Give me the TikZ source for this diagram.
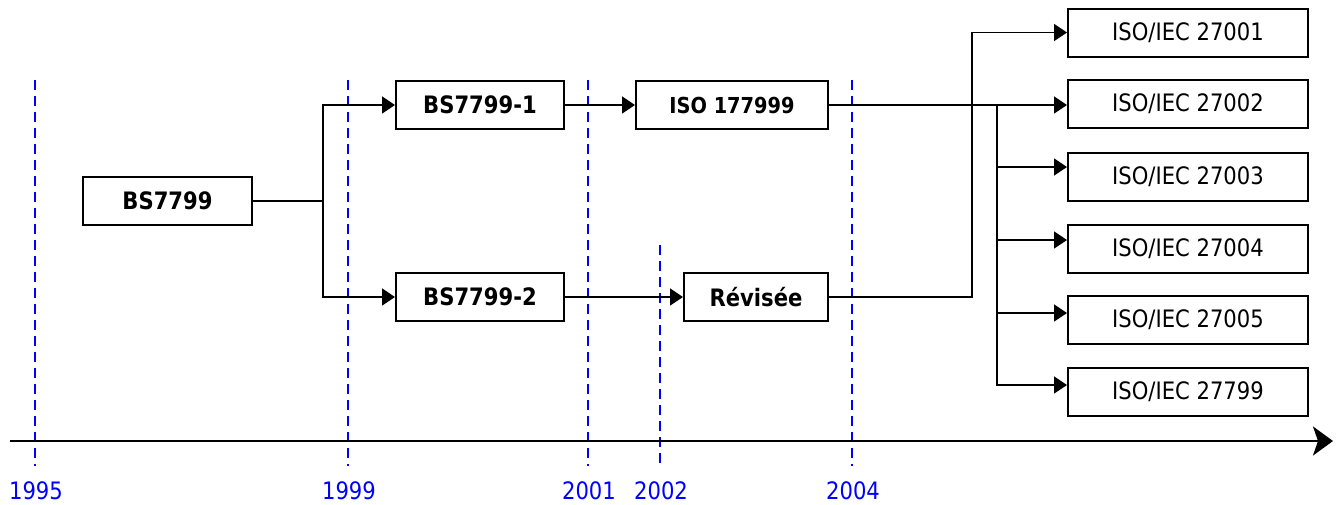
\documentclass[tikz,border=0pt]{standalone}
\usepackage{fontspec}
\setmainfont[FakeStretch=0.88]{DejaVu Sans}
\usetikzlibrary{arrows.meta,positioning,calc}

\tikzset{
  box/.style={draw, line width=2pt, minimum height=48pt, inner sep=0pt,
    font=\fontsize{24}{28}\selectfont},
  boldbox/.style={box, font=\fontsize{24}{28}\selectfont\bfseries},
  link/.style={line width=1.8pt, -{Triangle[length=13pt,width=17pt]}},
  yearline/.style={blue, line width=1.8pt, dash pattern=on 10pt off 6pt},
  yearlabel/.style={blue, font=\fontsize{24}{28}\selectfont, inner sep=0pt},
  timeaxis/.style={line width=2.4pt, -{Stealth[length=20pt,width=29pt,inset=5pt]}}
}

\begin{document}
\begin{tikzpicture}[x=1pt,y=-1pt]
  \useasboundingbox (0,0) rectangle (1337,504);

  % Draw year markers
  \foreach \x/\yr/\top in {35/1995/80, 348/1999/80, 588/2001/80, 660/2002/245, 852/2004/80}{
    \draw[yearline] (\x,\top) -- (\x,466);
    \node[yearlabel] (y\yr) at (\x+1,491) {\yr};
  }

  % Draw time axis
  \coordinate (t0) at (10,441);
  \coordinate (t1) at (1333,441);
  \draw[timeaxis] (t0) -- (t1);

  % Standards
  \node[boldbox, minimum width=169pt] (bs)   at (167.5,201) {BS7799};
  \node[boldbox, minimum width=168pt] (bs1)  at (480,105) {BS7799-1};
  \node[boldbox, minimum width=168pt] (bs2)  at (480,297) {BS7799-2};
  \node[boldbox, minimum width=192pt] (iso)  at (732,105) {\fontsize{22}{26}\selectfont ISO 177999};
  \node[boldbox, minimum width=144pt] (rev)  at (756,297) {Révisée};

  % ISO/IEC family
  \foreach \n/\y/\num in {1/32.5/27001, 2/104/27002, 3/177/27003, 4/249/27004, 5/320/27005, 6/392/27799}
    \node[box, minimum width=240pt] (i\n) at (1188,\y) {ISO/IEC \num};

  % Connectors
  \coordinate (fork) at (323,201);
  \draw[link] (bs.east) -- (fork) |- (bs1.west);
  \draw[link] (fork) |- (bs2.west);
  \draw[link] (bs1) -- (iso);
  \draw[link] (bs2) -- (rev);

  \coordinate (hub) at (997,105);
  \draw[link] (iso.east) -- (iso.east -| i2.west);
  \foreach \n/\dy in {3/10, 4/9, 5/7, 6/7}
    \draw[link] (hub) |- ([yshift=\dy pt]i\n.west);

  \coordinate (turn) at (972,297);
  \draw[link] (rev.east) -- (turn) |- (i1.west);
\end{tikzpicture}
\end{document}
